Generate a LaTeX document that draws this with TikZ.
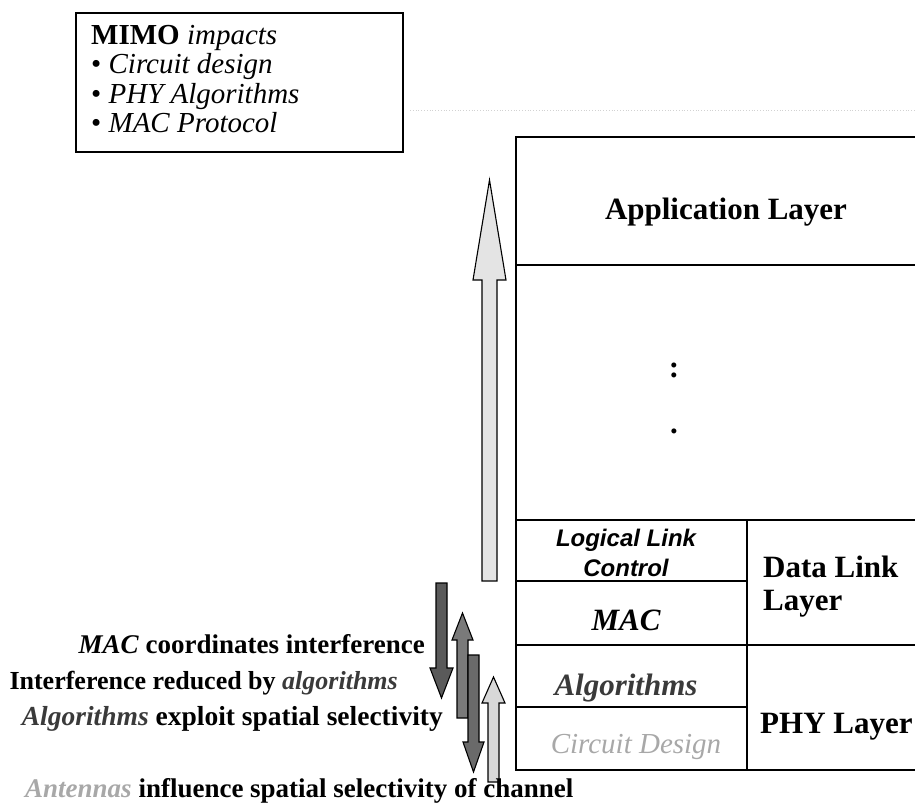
\documentclass[tikz,border=0pt]{standalone}
\usepackage{fontspec}
\setmainfont{Liberation Serif}
\newfontfamily\llcfont{Liberation Sans}
\definecolor{shadeBig}{HTML}{E4E4E4}
\definecolor{shadeMacDown}{HTML}{5A5A5A}
\definecolor{shadeAlgUp}{HTML}{7A7A7A}
\definecolor{shadeAlgDown}{HTML}{6A6A6A}
\definecolor{shadeAnt}{HTML}{D8D8D8}
\definecolor{algtext}{HTML}{3A3A3A}
\definecolor{paletext}{HTML}{A8A8A8}
\begin{document}
\begin{tikzpicture}[x=1pt,y=-1pt,
  cell/.style={draw, line width=2.8pt, inner sep=0pt},
  blockarrow/.style={draw=black, line width=1.1pt, line join=miter},
  biglbl/.style={font=\fontsize{31}{36}\selectfont\bfseries, inner sep=0pt},
  sidelbl/.style={font=\fontsize{27}{32}\selectfont\bfseries, inner sep=0pt},
  boxtext/.style={font=\fontsize{29}{29}\selectfont, inner sep=0pt, anchor=base west},
  llclbl/.style={font=\fontsize{24}{30}\selectfont\llcfont\bfseries\itshape, inner sep=0pt, align=center}]
\useasboundingbox (0,0) rectangle (915,808);
\clip (0,0) rectangle (915,808);

% ---- MIMO summary box ----
\node[draw, line width=2pt, minimum width=327pt, minimum height=139pt, inner sep=0pt] (mimo) at (239.5,82.5) {};
\node[boxtext] (mimo1) at (91,45) {\textbf{MIMO} \textit{impacts}};
\node[boxtext] (mimo2) at (91,74) {• \textit{Circuit design}};
\node[boxtext] (mimo3) at (91,103) {• \textit{PHY Algorithms}};
\node[boxtext] (mimo4) at (91,132) {• \textit{MAC Protocol}};

% faint dotted rule leaving the box
\draw[gray!35, dotted, line width=0.8pt] (mimo.east |- 0,110) ++(6,0) -- (915,110);

% ---- protocol stack ----
\node[cell, minimum width=424pt, minimum height=128pt] (app) at (728,201) {};
\node[cell, minimum width=424pt, minimum height=255pt] (mid) at (728,392.5) {};
\node[cell, minimum width=231pt, minimum height=61pt] (llc) at (631.5,550.5) {};
\node[cell, minimum width=231pt, minimum height=64pt] (mac) at (631.5,613) {};
\node[cell, minimum width=231pt, minimum height=62pt] (alg) at (631.5,676) {};
\node[cell, minimum width=231pt, minimum height=63pt] (circ) at (631.5,738.5) {};
\node[cell, minimum width=193pt, minimum height=125pt] (dll) at (843.5,582.5) {};
\node[cell, minimum width=193pt, minimum height=125pt] (phy) at (843.5,707.5) {};

\node[biglbl, anchor=base] (tapp) at (726,219) {Application Layer};
\node[biglbl, anchor=base] (tcolon) at (674,377) {:};
\node[biglbl, anchor=base] (tdot) at (674,433) {.};
\node[llclbl] (tllc) at (626,553) {Logical Link\\Control};
\node[biglbl, anchor=base] (tmac) at (626,630) {\itshape MAC};
\node[biglbl, anchor=base, text=algtext] (talg) at (626,695) {\itshape Algorithms};
\node[biglbl, anchor=base, text=paletext, font=\fontsize{29}{34}\selectfont\mdseries\itshape] (tcirc) at (636,753) {Circuit Design};
\node[biglbl, anchor=base west] (tdll1) at (763,577) {Data Link};
\node[biglbl, anchor=base west] (tdll2) at (763,610) {Layer};
\node[biglbl, anchor=base west] (tphy) at (760,733) {PHY Layer};

% ---- block arrows ----
\draw[blockarrow, fill=shadeBig] (482,581) -- (482,280) -- (473,280) -- (489.5,180)
  -- (506,280) -- (497,280) -- (497,581) -- cycle;
\draw[blockarrow, fill=shadeMacDown] (436,583) -- (447,583) -- (447,668) -- (453,668)
  -- (441.5,698) -- (430,668) -- (436,668) -- cycle;
\draw[blockarrow, fill=shadeAlgUp] (457,718) -- (457,640) -- (452,640) -- (462.5,613)
  -- (473,640) -- (468,640) -- (468,718) -- cycle;
\draw[blockarrow, fill=shadeAlgDown] (468,655) -- (479,655) -- (479,742) -- (484,742)
  -- (473.5,772) -- (463,742) -- (468,742) -- cycle;
\draw[blockarrow, fill=shadeAnt] (488,782) -- (488,703) -- (482,703) -- (493.5,677)
  -- (505,703) -- (499,703) -- (499,782) -- cycle;

% ---- side captions ----
\node[sidelbl, anchor=base east] (cap1) at (425,653) {\textit{MAC} coordinates interference};
\node[sidelbl, anchor=base east, font=\fontsize{26}{31}\selectfont\bfseries] (cap2) at (398,689) {Interference reduced by \textcolor{algtext}{\textit{algorithms}}};
\node[sidelbl, anchor=base east, font=\fontsize{27.5}{32}\selectfont\bfseries] (cap3) at (443,725) {\textcolor{algtext}{\textit{Algorithms}} exploit spatial selectivity};
\node[sidelbl, anchor=base west] (cap4) at (25,797) {\textcolor{paletext}{\textit{Antennas}} influence spatial selectivity of channel};
\end{tikzpicture}
\end{document}
